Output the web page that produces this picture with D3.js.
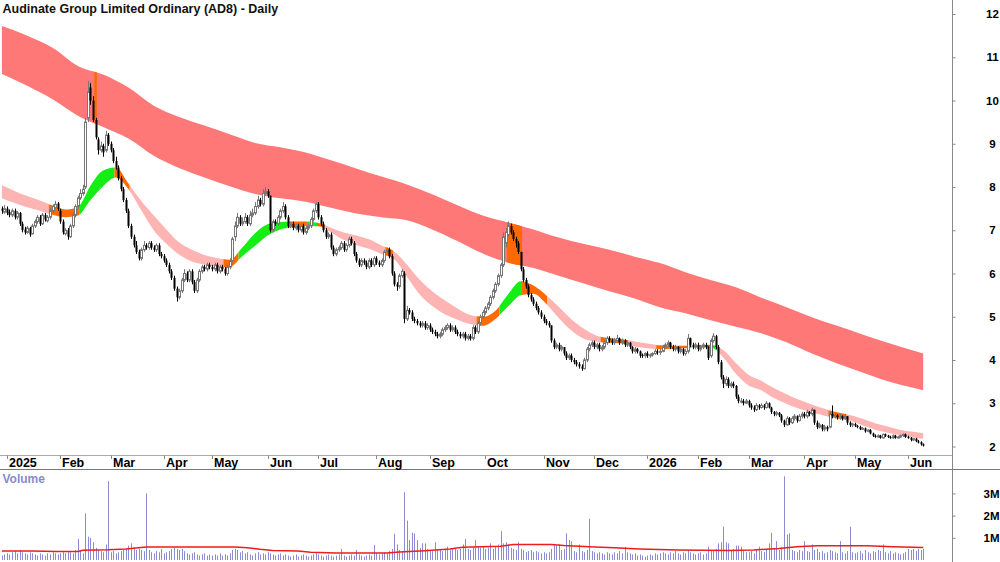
<!DOCTYPE html>
<html>
<head>
<meta charset="utf-8">
<script src="https://cdn.jsdelivr.net/npm/d3@7"></script>
<style>
body{margin:0;background:#fff;}
svg{display:block;font-family:"Liberation Sans Narrow","Arial Narrow","Liberation Sans",Arial,sans-serif;}
</style>
</head>
<body>
<svg id="holder" width="1000" height="562"></svg>
<script>
var title='Audinate Group Limited Ordinary (AD8) - Daily';
var firstDay='2024-12-30';
var holidays=['2025-01-01','2025-01-27','2025-04-18','2025-04-21','2025-04-25','2025-06-09','2025-12-25','2025-12-26',
  '2026-01-01','2026-01-26','2026-04-03','2026-04-06','2026-06-08'];

// daily prices, one row per month (Dec 24 .. Jun 26)
var opens=[7.5,7.42,
  7.5,7.42,7.35,7.45,7.3,7.4,7.15,7.02,6.95,7.05,6.92,7.1,7.2,7.3,7.15,7.35,7.22,7.3,7.45,7.52,7.62,
  7.45,7.2,6.92,7.0,6.85,7.1,7.35,7.55,7.75,7.85,8.0,9.6,10.3,10.0,9.55,9.1,8.85,8.95,8.85,9.2,
  9.0,8.85,8.6,8.45,8.2,7.95,7.7,7.45,7.1,6.85,6.65,6.5,6.35,6.55,6.65,6.6,6.7,6.6,6.55,6.65,6.45,
  6.4,6.3,6.2,6.05,5.9,5.65,5.45,5.6,5.85,6.0,5.85,6.05,5.8,5.6,5.85,6.05,6.15,6.1,6.2,
  6.15,6.1,6.2,6.05,6.15,6.1,6.0,6.15,6.3,6.85,7.1,7.3,7.15,7.2,7.3,7.15,7.35,7.4,7.55,7.7,7.6,7.85,
  7.9,7.8,7.0,7.2,7.15,7.3,7.45,7.55,7.3,7.1,7.15,7.05,7.1,7.0,7.1,6.95,7.05,7.1,7.25,7.45,
  7.6,7.3,7.15,7.0,6.85,6.9,6.6,6.45,6.55,6.6,6.7,6.55,6.65,6.8,6.7,6.45,6.3,6.2,6.3,6.25,6.15,6.3,6.2,
  6.35,6.25,6.2,6.3,6.5,6.55,6.4,6.0,5.75,5.7,5.95,6.0,4.95,5.15,5.1,4.95,4.9,4.85,4.8,4.85,4.75,
  4.8,4.7,4.65,4.6,4.55,4.6,4.7,4.75,4.8,4.7,4.75,4.65,4.6,4.55,4.6,4.5,4.55,4.5,4.75,4.65,4.85,5.0,
  5.1,5.2,5.3,5.45,5.6,5.75,5.95,6.2,6.7,6.9,7.1,6.95,6.8,6.7,6.5,6.1,5.85,5.7,5.5,5.4,5.3,5.2,5.1,
  5.0,4.9,4.85,4.8,4.45,4.3,4.35,4.25,4.3,4.15,4.05,4.1,4.0,3.95,3.9,3.85,3.8,4.0,4.25,4.35,
  4.4,4.3,4.35,4.25,4.3,4.4,4.5,4.45,4.4,4.45,4.5,4.4,4.45,4.35,4.4,4.3,4.2,4.25,4.2,4.12,4.1,
  4.15,4.1,4.12,4.15,4.2,4.18,4.2,4.3,4.35,4.4,4.3,4.25,4.3,4.2,4.25,4.15,4.2,4.5,4.35,4.3,
  4.35,4.25,4.3,4.35,4.3,4.1,4.45,4.55,4.3,3.95,3.6,3.45,3.55,3.4,3.45,3.4,3.15,3.05,3.05,3.0,
  3.05,2.95,2.9,2.85,2.95,2.9,2.95,2.9,3.0,2.9,2.8,2.75,2.78,2.72,2.6,2.5,2.65,2.55,2.65,2.7,2.6,2.7,
  2.75,2.7,2.8,2.75,2.85,2.55,2.45,2.5,2.4,2.45,2.45,2.75,2.7,2.72,2.68,2.7,2.65,2.7,2.55,2.5,
  2.52,2.48,2.45,2.4,2.42,2.35,2.38,2.3,2.25,2.22,2.25,2.2,2.28,2.25,2.22,2.2,2.25,2.2,2.22,2.25,2.28,
  2.22,2.2,2.15,2.18,2.12,2.1,2.05];
var highs=[7.55,7.58,
  7.55,7.48,7.5,7.5,7.45,7.42,7.2,7.08,7.1,7.08,7.15,7.25,7.35,7.35,7.4,7.4,7.35,7.5,7.6,7.68,7.65,
  7.5,7.25,7.05,7.05,7.15,7.4,7.6,7.8,7.95,8.05,9.6,10.45,10.4,10.1,9.6,9.15,9.05,9.0,9.3,9.25,
  9.05,8.9,8.7,8.5,8.25,8.0,7.75,7.5,7.15,6.9,6.75,6.55,6.6,6.75,6.7,6.75,6.75,6.65,6.7,6.7,6.5,
  6.45,6.35,6.25,6.1,5.95,5.7,5.65,5.9,6.1,6.05,6.1,6.1,5.85,5.9,6.1,6.2,6.2,6.25,6.25,
  6.2,6.25,6.25,6.2,6.2,6.15,6.2,6.35,6.85,7.2,7.4,7.35,7.3,7.4,7.35,7.45,7.5,7.65,7.8,7.75,7.95,8.0,
  7.95,7.8,7.25,7.25,7.35,7.5,7.65,7.6,7.35,7.2,7.2,7.15,7.15,7.15,7.15,7.1,7.15,7.3,7.5,7.65,
  7.65,7.35,7.2,7.05,6.95,6.95,6.65,6.6,6.65,6.75,6.75,6.7,6.85,6.85,6.75,6.5,6.35,6.35,6.35,6.3,6.35,6.35,6.4,
  6.4,6.3,6.35,6.55,6.6,6.6,6.45,6.05,5.8,6.0,6.1,6.05,5.25,5.2,5.15,5.0,4.95,4.9,4.9,4.9,4.85,
  4.85,4.75,4.7,4.65,4.65,4.75,4.8,4.85,4.85,4.8,4.8,4.7,4.65,4.65,4.65,4.6,4.6,4.8,4.8,4.9,5.05,5.15,
  5.25,5.35,5.5,5.65,5.8,6.0,6.25,6.95,7.05,7.2,7.15,7.0,6.85,6.75,6.5,6.15,5.9,5.75,5.55,5.45,5.35,5.25,5.15,
  5.05,4.95,4.9,4.8,4.5,4.4,4.4,4.35,4.3,4.2,4.15,4.15,4.05,4.0,3.95,3.9,4.05,4.3,4.4,4.45,
  4.45,4.4,4.4,4.35,4.45,4.55,4.55,4.5,4.5,4.58,4.52,4.5,4.48,4.45,4.42,4.32,4.3,4.28,4.22,4.15,4.18,
  4.2,4.15,4.18,4.25,4.25,4.25,4.35,4.4,4.45,4.42,4.35,4.35,4.32,4.3,4.28,4.25,4.6,4.52,4.4,4.4,
  4.4,4.35,4.4,4.4,4.32,4.5,4.62,4.58,4.35,4.0,3.65,3.62,3.6,3.5,3.5,3.42,3.2,3.12,3.1,3.1,
  3.08,3.0,2.95,3.0,2.98,3.0,2.98,3.05,3.02,2.92,2.82,2.82,2.8,2.75,2.62,2.7,2.68,2.7,2.75,2.72,2.75,2.8,
  2.8,2.85,2.82,2.9,2.85,2.6,2.55,2.52,2.5,2.48,2.8,2.95,2.78,2.75,2.75,2.72,2.75,2.7,2.58,2.55,
  2.55,2.5,2.48,2.45,2.44,2.4,2.4,2.32,2.28,2.28,2.27,2.3,2.3,2.27,2.25,2.28,2.27,2.25,2.28,2.3,2.3,
  2.25,2.22,2.2,2.2,2.15,2.12,2.07];
var lows=[7.38,7.38,
  7.35,7.3,7.3,7.25,7.25,7.1,6.95,6.9,6.92,6.85,6.9,7.05,7.15,7.1,7.12,7.2,7.18,7.25,7.4,7.48,7.45,
  7.15,6.9,6.88,6.78,6.82,7.05,7.3,7.5,7.7,7.8,7.95,9.5,9.9,9.5,9.1,8.75,8.8,8.7,8.8,8.95,
  8.8,8.55,8.4,8.15,7.9,7.65,7.4,7.05,6.8,6.6,6.45,6.3,6.3,6.5,6.55,6.55,6.55,6.5,6.5,6.4,6.35,
  6.25,6.15,6.0,5.85,5.6,5.35,5.4,5.55,5.8,5.8,5.8,5.75,5.55,5.55,5.8,6.0,6.05,6.05,6.1,
  6.05,6.05,6.0,6.0,6.05,5.95,5.95,6.1,6.25,6.75,7.05,7.1,7.1,7.15,7.1,7.1,7.3,7.35,7.5,7.55,7.55,7.8,
  7.75,6.95,6.95,7.1,7.1,7.25,7.4,7.25,7.05,7.05,7.0,7.0,6.95,6.95,6.9,6.9,7.0,7.05,7.2,7.4,
  7.25,7.1,6.95,6.8,6.8,6.55,6.4,6.4,6.5,6.55,6.5,6.5,6.6,6.65,6.4,6.25,6.15,6.15,6.2,6.1,6.1,6.15,6.15,
  6.2,6.15,6.15,6.25,6.45,6.35,5.95,5.7,5.6,5.65,5.9,4.85,4.9,5.05,4.9,4.85,4.8,4.75,4.75,4.7,4.7,
  4.65,4.6,4.55,4.5,4.5,4.55,4.65,4.7,4.65,4.65,4.6,4.55,4.5,4.5,4.45,4.45,4.45,4.45,4.6,4.6,4.8,4.95,
  5.05,5.15,5.25,5.4,5.55,5.7,5.9,6.15,6.6,6.85,6.9,6.75,6.6,6.45,6.05,5.8,5.65,5.45,5.35,5.25,5.15,5.05,4.95,
  4.85,4.8,4.75,4.4,4.25,4.25,4.2,4.2,4.1,4.0,4.0,3.95,3.9,3.85,3.8,3.75,3.78,3.95,4.2,4.3,
  4.25,4.25,4.2,4.2,4.25,4.35,4.4,4.35,4.35,4.4,4.35,4.35,4.3,4.3,4.25,4.15,4.15,4.15,4.05,4.05,4.05,
  4.05,4.05,4.08,4.12,4.12,4.12,4.18,4.25,4.3,4.25,4.2,4.2,4.15,4.15,4.1,4.1,4.15,4.3,4.25,4.25,
  4.2,4.2,4.25,4.25,4.0,4.05,4.4,4.25,3.9,3.55,3.35,3.4,3.35,3.35,3.35,3.1,3.0,3.0,2.95,2.98,
  2.9,2.85,2.8,2.82,2.85,2.88,2.85,2.88,2.88,2.75,2.7,2.7,2.68,2.55,2.45,2.48,2.5,2.52,2.6,2.55,2.58,2.65,
  2.65,2.65,2.7,2.7,2.5,2.4,2.42,2.35,2.35,2.35,2.42,2.65,2.65,2.62,2.62,2.6,2.62,2.5,2.45,2.45,
  2.45,2.42,2.38,2.38,2.32,2.33,2.28,2.22,2.2,2.2,2.18,2.18,2.22,2.2,2.18,2.18,2.18,2.18,2.2,2.22,2.2,
  2.18,2.12,2.13,2.1,2.07,2.02,2.0];
var closes=[7.45,7.5,
  7.4,7.35,7.45,7.3,7.4,7.15,7.0,6.95,7.05,6.9,7.1,7.2,7.3,7.15,7.35,7.25,7.3,7.45,7.55,7.6,7.5,
  7.2,6.95,7.0,6.85,7.1,7.35,7.55,7.75,7.85,7.95,9.5,10.2,10.0,9.55,9.15,8.85,8.95,8.8,9.2,9.0,
  8.85,8.6,8.45,8.2,7.95,7.7,7.45,7.1,6.85,6.65,6.5,6.35,6.55,6.65,6.6,6.7,6.6,6.55,6.65,6.45,6.4,
  6.3,6.2,6.05,5.9,5.65,5.45,5.6,5.85,6.0,5.85,6.05,5.8,5.6,5.85,6.05,6.15,6.1,6.2,6.15,
  6.1,6.2,6.05,6.15,6.1,6.0,6.15,6.3,6.8,7.1,7.3,7.15,7.2,7.3,7.15,7.35,7.4,7.55,7.7,7.6,7.85,7.9,
  7.8,7.0,7.2,7.15,7.3,7.45,7.55,7.3,7.1,7.15,7.05,7.1,7.0,7.1,6.95,7.05,7.1,7.25,7.45,7.6,
  7.3,7.15,7.0,6.85,6.9,6.6,6.45,6.55,6.6,6.7,6.55,6.65,6.8,6.7,6.45,6.3,6.2,6.3,6.25,6.15,6.3,6.2,6.35,
  6.25,6.2,6.3,6.5,6.55,6.4,6.0,5.75,5.7,5.95,6.05,4.95,5.15,5.1,4.95,4.9,4.85,4.8,4.85,4.75,4.8,
  4.7,4.65,4.6,4.55,4.6,4.7,4.75,4.8,4.7,4.75,4.65,4.6,4.55,4.6,4.5,4.55,4.5,4.75,4.65,4.85,5.0,5.1,
  5.2,5.3,5.45,5.6,5.75,5.95,6.2,6.85,6.95,7.1,6.95,6.8,6.7,6.5,6.1,5.85,5.7,5.5,5.4,5.3,5.2,5.1,5.0,
  4.9,4.85,4.8,4.45,4.3,4.35,4.25,4.3,4.15,4.05,4.1,4.0,3.95,3.9,3.85,3.8,4.0,4.25,4.35,4.4,
  4.3,4.35,4.25,4.3,4.4,4.5,4.45,4.4,4.45,4.5,4.4,4.45,4.35,4.4,4.3,4.2,4.25,4.2,4.1,4.1,4.15,
  4.1,4.12,4.15,4.2,4.18,4.2,4.3,4.35,4.4,4.3,4.25,4.3,4.2,4.25,4.15,4.2,4.5,4.35,4.3,4.35,
  4.25,4.3,4.35,4.3,4.05,4.45,4.55,4.3,3.95,3.6,3.45,3.55,3.4,3.45,3.4,3.15,3.05,3.05,3.0,3.05,
  2.95,2.9,2.85,2.95,2.9,2.95,2.9,3.0,2.9,2.8,2.75,2.78,2.72,2.6,2.5,2.65,2.55,2.65,2.7,2.6,2.7,2.75,
  2.7,2.8,2.75,2.85,2.55,2.45,2.5,2.4,2.45,2.4,2.75,2.7,2.72,2.68,2.7,2.65,2.7,2.55,2.5,2.52,
  2.48,2.45,2.4,2.42,2.35,2.38,2.3,2.25,2.22,2.25,2.2,2.28,2.25,2.22,2.2,2.25,2.2,2.22,2.25,2.28,2.22,
  2.2,2.15,2.18,2.12,2.1,2.05,2.03];
// volume in millions
var volumes=[0.2,0.25,
  0.3,0.25,0.35,0.4,0.3,0.45,0.35,0.3,0.25,0.35,0.3,0.25,0.2,0.3,0.25,0.2,0.3,0.25,0.35,0.3,0.25,
  0.3,0.35,0.3,0.4,0.35,0.3,0.45,0.95,0.45,0.3,2.1,1.05,1.0,0.8,0.55,0.45,0.4,0.35,0.7,3.55,
  0.35,0.4,0.3,0.35,0.4,0.45,0.5,0.65,0.75,0.55,0.45,0.5,0.45,0.4,3.0,0.45,0.35,0.3,0.4,0.35,0.5,
  0.3,0.35,0.4,0.5,0.55,0.5,0.45,0.5,0.4,0.3,0.25,0.3,0.35,0.25,0.2,0.25,0.3,0.2,0.25,
  0.2,0.25,0.2,0.3,0.2,0.25,0.2,0.3,0.45,0.5,0.45,0.35,0.4,0.3,0.35,0.25,0.2,0.3,0.35,0.25,0.3,0.25,
  0.35,0.3,0.25,0.2,0.25,0.3,0.2,0.25,0.2,0.15,0.2,0.25,0.15,0.2,0.25,0.2,0.15,0.2,0.25,0.3,
  0.25,0.2,0.15,0.2,0.25,0.2,0.15,0.2,0.25,0.5,0.2,0.15,0.2,0.25,0.2,0.45,0.25,0.2,0.15,0.2,0.25,0.2,0.68,
  0.3,0.25,0.3,0.35,0.3,0.4,0.5,1.18,0.7,0.45,0.4,3.05,1.77,0.9,1.23,1.2,0.9,0.55,0.75,0.75,0.5,
  0.45,0.4,0.8,0.5,0.45,0.4,0.5,0.6,0.45,0.5,0.55,0.45,0.5,0.7,0.95,0.5,0.45,0.55,0.9,0.6,0.55,0.6,
  0.5,0.55,0.75,0.5,0.6,0.7,1.3,0.75,0.8,0.7,0.55,0.5,0.45,0.8,0.5,0.45,0.35,0.4,0.45,0.35,0.4,0.35,0.3,
  0.35,0.3,0.35,0.5,0.7,0.65,0.7,0.45,0.5,1.2,0.9,0.85,0.4,0.35,0.7,0.4,0.35,0.45,1.86,0.4,
  0.35,0.3,0.35,0.3,0.25,0.35,0.3,0.25,0.35,0.3,0.4,0.3,0.6,0.35,0.3,0.25,0.3,0.2,0.25,0.2,0.15,
  0.2,0.25,0.2,0.3,0.25,0.3,0.35,0.3,0.25,0.35,0.3,0.4,0.3,0.25,0.35,0.3,0.45,0.35,0.3,0.25,
  0.3,0.35,0.25,0.3,0.6,0.4,0.45,0.5,0.75,0.8,1.5,0.8,0.75,0.45,0.5,0.65,0.65,0.6,0.4,0.35,
  0.35,0.4,0.3,0.45,0.6,0.4,0.35,0.5,0.75,1.23,0.5,0.85,0.45,0.6,3.77,1.15,1.2,0.45,0.4,0.35,0.45,0.4,
  0.85,0.4,0.35,0.7,0.45,0.5,0.35,0.4,0.3,0.35,0.45,0.4,0.35,0.3,0.85,0.35,0.3,0.4,1.5,0.35,
  0.3,0.35,0.4,0.3,0.45,0.35,0.3,0.4,0.35,0.45,0.4,0.7,0.35,0.3,0.4,0.3,0.35,0.3,0.25,0.3,0.35,
  0.5,0.45,0.5,0.4,0.5,0.45,0.5];

// long band (bar number, upper, lower)
var longBandAt=d3.range(0,361,10).concat([364]);
var longBandTop=[11.72,11.50,11.22,10.80,10.60,10.30,9.88,9.62,9.42,9.22,9.02,8.92,8.80,8.62,8.43,8.24,8.06,7.83,7.58,7.34,
  7.18,7.02,6.83,6.68,6.55,6.39,6.24,6.03,5.85,5.68,5.44,5.22,4.99,4.79,4.59,4.40,4.22,4.15];
var longBandBottom=[10.61,10.34,10.03,9.65,9.39,9.12,8.72,8.44,8.22,8.02,7.84,7.74,7.66,7.52,7.39,7.30,7.23,7.02,6.75,6.46,
  6.25,6.13,5.95,5.77,5.59,5.42,5.22,5.08,4.92,4.77,4.62,4.41,4.15,3.92,3.71,3.51,3.36,3.30];
var longBandHot=[[37,38],[200,206]];

// short band
var shortBandAt=d3.range(0,361,5).concat([364]);
var shortBandTop=[8.04,7.91,7.79,7.69,7.57,7.48,7.54,8.03,8.38,8.45,8.08,7.68,7.34,7.02,6.72,6.55,6.43,6.36,6.32,6.60,
  6.93,7.14,7.19,7.20,7.20,7.17,7.06,6.95,6.88,6.79,6.65,6.51,6.21,5.86,5.59,5.38,5.19,5.04,5.00,5.14,
  5.52,5.82,5.72,5.50,5.23,4.94,4.72,4.56,4.51,4.48,4.43,4.38,4.34,4.33,4.33,4.34,4.35,4.23,3.93,3.66,
  3.52,3.35,3.21,3.08,2.97,2.87,2.79,2.73,2.64,2.54,2.46,2.38,2.34,2.31];
var shortBandBottom=[7.74,7.63,7.53,7.45,7.36,7.30,7.34,7.70,8.02,8.22,7.95,7.47,7.00,6.69,6.44,6.28,6.21,6.15,6.15,6.40,
  6.64,6.88,7.02,7.07,7.10,7.09,6.95,6.78,6.66,6.57,6.45,6.33,5.93,5.52,5.25,5.06,4.93,4.83,4.79,4.95,
  5.24,5.50,5.53,5.30,4.97,4.68,4.49,4.42,4.40,4.38,4.31,4.27,4.25,4.26,4.27,4.29,4.29,4.06,3.68,3.41,
  3.30,3.12,2.99,2.87,2.79,2.71,2.65,2.60,2.49,2.39,2.32,2.26,2.21,2.18];
var shortBandState=[[0,'down'],[19,'mixed'],[31,'up'],[45,'mixed'],[51,'down'],[88,'mixed'],[94,'up'],[114,'mixed'],
  [121,'up'],[125,'mixed'],[128,'down'],[152,'mixed'],[155,'down'],[188,'mixed'],[197,'up'],[206,'mixed'],
  [216,'down'],[237,'mixed'],[248,'down'],[259,'mixed'],[273,'down'],[276,'mixed'],[281,'up'],[283,'down'],
  [327,'mixed'],[334,'down']];

// volume average line
var volAvgAt=[0,12,22,30,32,42,49,57,72,92,97,102,107,117,122,132,152,157,167,177,182,197,202,217,222,232,242,252,267,287,297,307,314,322,342,352,364];
var volAvg=[0.41,0.40,0.38,0.38,0.44,0.46,0.50,0.58,0.59,0.59,0.55,0.48,0.43,0.41,0.35,0.32,0.32,0.36,0.42,0.50,0.57,0.62,0.70,0.70,0.65,0.60,0.55,0.50,0.45,0.43,0.45,0.52,0.60,0.64,0.64,0.60,0.56];

var priceTicks=[2,3,4,5,6,7,8,9,10,11,12];
var volTicks=[1,2,3];

var stateColors={down:'#FFB4B4',mixed:'#FF6A00',up:'#14EE14'};

var svg=d3.select('#holder');
var axis_x=952;
var N=closes.length;

var x=d3.scaleLinear().domain([0,364]).range([1.9,923.2]);
var y=d3.scaleLinear().domain([2,12]).range([446.5,14]);
var vy=d3.scaleLinear().domain([0,4]).range([560,471.2]);

function trading_days(n) {
  var fmt=d3.timeFormat('%Y-%m-%d');
  var out=[];
  var d=d3.timeParse('%Y-%m-%d')(firstDay);
  while (out.length<n) {
    var dow=d.getDay();
    if ((dow>0)&&(dow<6)&&(holidays.indexOf(fmt(d))<0)) out.push(new Date(d));
    d=d3.timeDay.offset(d,1);
  }
  return out;
}
var days=trading_days(N);

svg.append('rect').attr('width',1000).attr('height',562).attr('fill','#fff');
var defs=svg.append('defs');

function band_path(at,lo,hi) {
  return d3.area()
    .x(function(d,i) {return x(at[i]);})
    .y0(function(d,i) {return y(lo[i]);})
    .y1(function(d,i) {return y(hi[i]);})
    .curve(d3.curveMonotoneX)(at);
}
var clip_count=0;
function clip_bars(b0,b1) {
  var id='clp'+(clip_count++);
  var x0=(b0<=0)?0:x(b0-0.5);
  var x1=(b1>=N)?x(N-0.5):x(b1-0.5);
  defs.append('clipPath').attr('id',id).append('rect')
    .attr('x',x0).attr('y',0).attr('width',x1-x0).attr('height',456);
  return 'url(#'+id+')';
}

// long band
var gl=svg.append('g');
var long_d=band_path(longBandAt,longBandBottom,longBandTop);
gl.append('path').attr('d',long_d).attr('fill','#FF7878');
longBandHot.forEach(function(s) {
  gl.append('path').attr('d',long_d).attr('fill','#FF6A00').attr('clip-path',clip_bars(s[0],s[1]));
});

// short band
var gs=svg.append('g');
var short_d=band_path(shortBandAt,shortBandBottom,shortBandTop);
for (var k=0; k<shortBandState.length; k++) {
  var b0=shortBandState[k][0];
  var b1=(k+1<shortBandState.length)?shortBandState[k+1][0]:N;
  gs.append('path').attr('d',short_d).attr('fill',stateColors[shortBandState[k][1]])
    .attr('clip-path',clip_bars(b0,b1));
}

// candles
var gc=svg.append('g');
for (var b=0; b<N; b++) {
  var xl=Math.round(x(b));
  var up=closes[b]>=opens[b];
  var ytop=y(Math.max(opens[b],closes[b]));
  var ybot=y(Math.min(opens[b],closes[b]));
  gc.append('line').attr('x1',xl+0.5).attr('x2',xl+0.5)
    .attr('y1',y(highs[b])).attr('y2',y(lows[b]))
    .attr('stroke',up?'#777':'#000').attr('stroke-width',1);
  if (up) {
    gc.append('rect').attr('x',xl-0.5).attr('y',ytop).attr('width',2).attr('height',Math.max(ybot-ytop,1))
      .attr('fill','#fff').attr('stroke','#777').attr('stroke-width',1);
  }
  else {
    gc.append('rect').attr('x',xl-0.5).attr('y',ytop).attr('width',2).attr('height',Math.max(ybot-ytop,1.2))
      .attr('fill','#000');
  }
}

// price axis
svg.append('line').attr('x1',axis_x+0.5).attr('x2',axis_x+0.5).attr('y1',0).attr('y2',562)
  .attr('stroke','#888').attr('stroke-width',1);
var ya=svg.append('g').attr('transform','translate('+(axis_x+0.5)+',0)')
  .call(d3.axisRight(y).tickValues(priceTicks).tickSize(3).tickFormat(d3.format('d')));
ya.select('.domain').remove();
ya.selectAll('line').attr('stroke','#888');
ya.selectAll('text').attr('x',40).attr('text-anchor','middle')
  .style('font-size','11.5px').style('font-weight','bold').attr('fill','#000');

// date strip
svg.append('line').attr('x1',0).attr('x2',axis_x).attr('y1',455.5).attr('y2',455.5).attr('stroke','#AAA');
svg.append('line').attr('x1',0).attr('x2',1000).attr('y1',469.5).attr('y2',469.5).attr('stroke','#777');
var gx=svg.append('g');
for (var b=1; b<N; b++) {
  if (days[b].getMonth()==days[b-1].getMonth()) continue;
  var xm=Math.round(x(b))+0.5;
  gx.append('line').attr('x1',xm).attr('x2',xm).attr('y1',455.5).attr('y2',459).attr('stroke','#888');
  gx.append('text').attr('x',xm+1.5).attr('y',466.8)
    .style('font-size','12.5px').style('font-weight','bold')
    .text(days[b].getMonth()==0?d3.timeFormat('%Y')(days[b]):d3.timeFormat('%b')(days[b]));
}

// volume
var gv=svg.append('g');
for (var b=0; b<N; b++) {
  var xv=Math.round(x(b))+0.5;
  gv.append('line').attr('x1',xv).attr('x2',xv).attr('y1',vy(0)).attr('y2',vy(volumes[b]))
    .attr('stroke','#8C8CD4').attr('stroke-width',1);
}
var vline=d3.line()
  .x(function(d,i) {return x(volAvgAt[i]);})
  .y(function(d,i) {return vy(volAvg[i]);});
gv.append('path').attr('d',vline(volAvgAt)).attr('fill','none').attr('stroke','#EE1C1C').attr('stroke-width',1.5);

var va=svg.append('g').attr('transform','translate('+(axis_x+0.5)+',0)')
  .call(d3.axisRight(vy).tickValues(volTicks).tickSize(3).tickFormat(function(d) {return d+'M';}));
va.select('.domain').remove();
va.selectAll('line').attr('stroke','#888');
va.selectAll('text').attr('x',39).attr('text-anchor','middle')
  .style('font-size','11.5px').style('font-weight','bold').attr('fill','#000');

svg.append('text').attr('x',2.5).attr('y',482.5).style('font-size','12px').style('font-weight','bold')
  .attr('fill','#8A8AC8').text('Volume');

// title
svg.append('text').attr('x',2.5).attr('y',12.8).style('font-size','12.5px').style('font-weight','bold')
  .attr('fill','#111').text(title);
</script>
</body>
</html>
